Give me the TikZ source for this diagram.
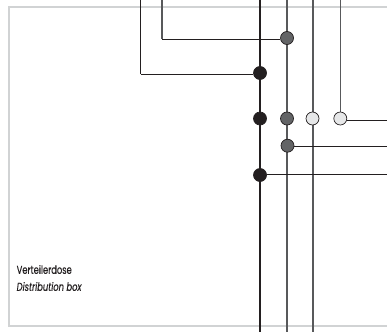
\documentclass[tikz,border=0pt]{standalone}
\usepackage{fontspec}
\setmainfont{Poppins}[FakeStretch=0.72,FakeBold=0.25]
\definecolor{ink}{HTML}{231F20}
\definecolor{midgrey}{HTML}{636466}
\definecolor{wiregrey}{HTML}{58595B}
\definecolor{pale}{HTML}{E6E7E8}
\definecolor{frame}{HTML}{D1D3D4}
\tikzset{
  x=1pt,y=-1pt,
  boxframe/.style={draw=frame,line width=1.8pt},
  dot/.style={circle,draw=ink,line width=.7pt,minimum size=13pt,inner sep=0pt},
  blackdot/.style={dot,fill=ink},
  greydot/.style={dot,fill=midgrey},
  palepdot/.style={dot,fill=pale},
  wireblack/.style={draw=ink,line width=1.2pt},
  wiregr/.style={draw=wiregrey,line width=1.5pt},
  lead/.style={draw=ink,line width=1pt},
  caption/.style={anchor=west,inner sep=0pt,font=\fontsize{11.6}{13}\selectfont,text=ink}
}
\begin{document}
\begin{tikzpicture}
\useasboundingbox (0,0) rectangle (387,332);
\fill[white] (0,0) rectangle (387,332);
\draw[boxframe] (387,6.7) -- (9,6.7) -- (9,326.3) -- (387,326.3);
% free ends
\foreach \n/\x/\y in {tA/260/0,bA/260/332,tB/287/0,bB/287/332,tC/313/0,bC/313/332,tD/340.3/0,
  tE/162/0,cE/162/39,tF/140.5/0,cF/140.5/74,rD/387/120.5,rG/387/146.5,rH/387/174.5}
  \coordinate (\n) at (\x,\y);
% wires
\draw[wireblack] (tA) -- (bA);
\draw[wiregr] (tB) -- (bB);
\draw[wiregr] (tC) -- (bC);
\draw[wiregr] (tD) -- (340.3,118);
\draw[wiregr] (tE) -- (cE);
\draw[wireblack] (tF) -- (cF);
% dots
\node[greydot] (n1) at (287,38) {};
\node[blackdot] (n2) at (260,73) {};
\node[blackdot] (n3) at (260,118.5) {};
\node[greydot] (n4) at (287,118.5) {};
\node[palepdot] (n5) at (312.5,118.5) {};
\node[palepdot] (n6) at (340.3,118.5) {};
\node[greydot] (n7) at (287.5,145.7) {};
\node[blackdot] (n8) at (260,175) {};
% leads
\draw[lead] (cE) -- (n1.west |- cE);
\draw[lead] (cF) -- (n2.west |- cF);
\draw[lead] (n6.east |- rD) -- (rD);
\draw[lead] (n7.east |- rG) -- (rG);
\draw[lead] (n8.east |- rH) -- (rH);
% caption
\node[caption] (cap1) at (16.5,269.5) {Verteilerdose};
\node[caption] (cap2) at (16.5,286.5) {\itshape Distribution box};
\end{tikzpicture}
\end{document}
